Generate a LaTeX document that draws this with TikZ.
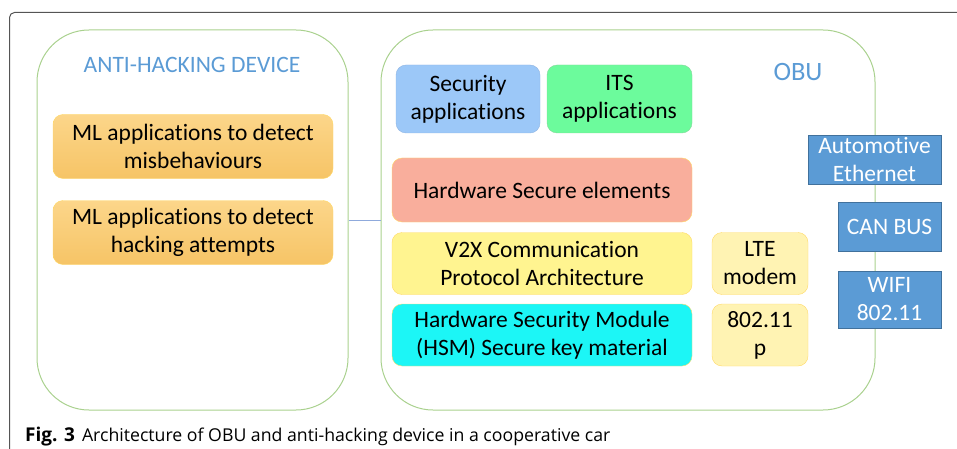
\documentclass[tikz,border=0pt]{standalone}
\usepackage{fontspec}
\setmainfont{Carlito}[Ligatures=NoCommon]
\newfontfamily\captionfont{Open Sans}
\definecolor{frameline}{HTML}{555555}
\definecolor{devline}{HTML}{A9D18E}
\definecolor{titleblue}{HTML}{5B9BD5}
\definecolor{linkblue}{HTML}{8FAADC}
\definecolor{mltop}{HTML}{FCD68A}
\definecolor{mlbottom}{HTML}{F6C466}
\definecolor{mlline}{HTML}{FFD966}
\definecolor{secfill}{HTML}{9CC8F8}
\definecolor{secline}{HTML}{8FB4E3}
\definecolor{itsfill}{HTML}{6CFB9C}
\definecolor{itsline}{HTML}{84D69A}
\definecolor{hsefill}{HTML}{F9AE9C}
\definecolor{v2xfill}{HTML}{FFF490}
\definecolor{hsmfill}{HTML}{1CF6F6}
\definecolor{radiofill}{HTML}{FFF3B3}
\definecolor{busfill}{HTML}{5B9BD5}
\definecolor{busline}{HTML}{41719C}
\begin{document}
\begin{tikzpicture}[x=1pt, y=-1pt,
  every node/.style = {align=center, inner sep=0pt,
    font=\fontsize{23.5}{28}\selectfont},
  device/.style = {draw=devline, line width=1pt, rounded corners=52pt},
  mlbox/.style = {draw=mlline, rounded corners=10pt,
    top color=mltop, bottom color=mlbottom,
    minimum width=280pt, minimum height=64pt},
  appbox/.style = {rounded corners=10pt, minimum height=68pt},
  wide/.style = {draw=mlline, rounded corners=10pt,
    minimum width=300pt, minimum height=62pt},
  radio/.style = {draw=mlline, fill=radiofill, rounded corners=10pt,
    minimum width=96pt, minimum height=62pt},
  bus/.style = {draw=busline, fill=busfill, text=white,
    minimum width=103pt, minimum height=49pt}]
  \useasboundingbox (0,0) rectangle (957,449);
  % outer frame
  \draw[frameline, line width=1pt, rounded corners=5pt]
    (9.5,449) -- (9.5,12.5) -- (957,12.5);
  % the two devices
  \node[device, minimum width=311pt, minimum height=380pt]
    (antihack) at (192.5,220) {};
  \node[device, minimum width=494pt, minimum height=380pt]
    (obu) at (628,220) {};
  \draw[linkblue, line width=1pt] (antihack.east) -- (obu.west);
  \node[text=titleblue] (antihacktitle) at (192,65) {ANTI-HACKING DEVICE};
  \node[text=titleblue, font=\fontsize{26.5}{30}\selectfont] (obutitle)
    at (798,72) {OBU};
  % anti-hacking device
  \node[mlbox] (misbehave) at (193,146.5)
    {ML applications to detect\\misbehaviours};
  \node[mlbox] (hacking) at (193,232.5)
    {ML applications to detect\\hacking attempts};
  % OBU
  \node[appbox, draw=secline, fill=secfill, minimum width=144pt]
    (secapp) at (468,99) {Security\\applications};
  \node[appbox, draw=itsline, fill=itsfill, minimum width=145pt]
    (itsapp) at (619.5,99) {ITS\\applications};
  \node[wide, fill=hsefill, minimum height=64pt] (hse) at (542,190)
    {Hardware Secure\ elements};
  \node[wide, fill=v2xfill] (v2x) at (542,263.5)
    {V2X Communication\\Protocol Architecture};
  \node[wide, fill=hsmfill] (hsm) at (542,335)
    {Hardware Security Module\\(HSM) Secure key material};
  \node[radio] (lte) at (760,263.5) {LTE\\modem};
  \node[radio] (wave) at (760,335) {802.11\\p};
  % vehicle buses
  \node[bus, minimum width=133pt] (autoeth) at (874.5,159.5)
    {Automotive\\Ethernet};
  \node[bus] (canbus) at (889.5,226.5) {CAN BUS};
  \node[bus, minimum height=57pt] (wifi) at (889.5,299.5) {WIFI\\802.11};
  % caption
  \node[anchor=west, font=\captionfont\fontsize{17.7}{21}\selectfont]
    (caption) at (25,437)
    {\textbf{\fontsize{19}{21}\selectfont Fig. 3}\hspace{7pt}Architecture of OBU and anti-hacking device in a cooperative car};
\end{tikzpicture}
\end{document}
